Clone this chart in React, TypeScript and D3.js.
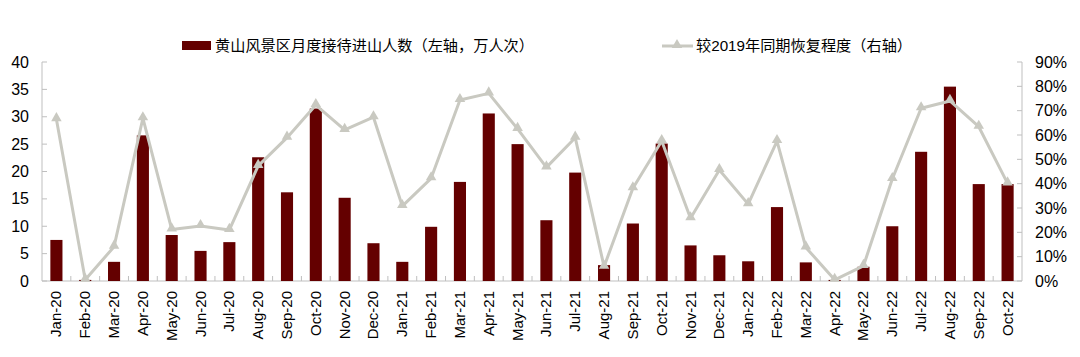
import React from "react";
import * as d3 from "d3";

const categories = [
  "Jan-20","Feb-20","Mar-20","Apr-20","May-20","Jun-20","Jul-20","Aug-20","Sep-20","Oct-20","Nov-20","Dec-20",
  "Jan-21","Feb-21","Mar-21","Apr-21","May-21","Jun-21","Jul-21","Aug-21","Sep-21","Oct-21","Nov-21","Dec-21",
  "Jan-22","Feb-22","Mar-22","Apr-22","May-22","Jun-22","Jul-22","Aug-22","Sep-22","Oct-22",
];
const visitors = [
  7.5, 0.2, 3.5, 26.6, 8.4, 5.5, 7.1, 22.6, 16.2, 31.5, 15.2, 6.9,
  3.5, 9.9, 18.1, 30.6, 25.0, 11.1, 19.8, 2.9, 10.5, 25.1, 6.5, 4.7,
  3.6, 13.5, 3.4, 0.2, 2.6, 10.0, 23.6, 35.5, 17.7, 17.7,
];
const recovery = [
  66.5, 0.5, 14.1, 66.9, 21.2, 22.6, 21.0, 47.3, 58.9, 72.3, 62.1, 67.3,
  30.8, 42.2, 74.4, 77.1, 62.5, 46.7, 58.9, 5.9, 38.1, 57.5, 25.8, 45.6,
  31.6, 57.5, 13.8, 0.5, 6.2, 41.9, 71.0, 74.0, 63.4, 40.1,
];
const leftTicks = [0, 5, 10, 15, 20, 25, 30, 35, 40];
const rightTicks = [0, 10, 20, 30, 40, 50, 60, 70, 80, 90];
const barLabel = "黄山风景区月度接待进山人数（左轴，万人次）";
const lineLabel = "较2019年同期恢复程度（右轴）";

const W = 1080, H = 357;
const M = { left: 42, right: 1022, top: 62, bottom: 281 };
const FONT = "Arial, 'Liberation Sans', 'Noto Sans CJK SC', sans-serif";
const BAR = "#640000";
const LINE = "#c9c9c1";
const AXIS = "#bfbfbf";

export default function App() {
  const x = d3.scaleBand<string>().domain(categories).range([M.left, M.right]).paddingInner(0.58).paddingOuter(0.29);
  const yL = d3.scaleLinear().domain([0, 40]).range([M.bottom, M.top]);
  const yR = d3.scaleLinear().domain([0, 90]).range([M.bottom, M.top]);
  const step = (M.right - M.left) / categories.length;
  const cx = (c: string) => (x(c) as number) + x.bandwidth() / 2;
  const line = d3.line<number>().x((_, i) => cx(categories[i])).y((d) => yR(d));
  const tri = d3.symbol().type(d3.symbolTriangle).size(48)();

  return (
    <svg width={W} height={H} style={{ position: "absolute", left: 0, top: 0, background: "#fff" }} fontFamily={FONT}>
      {/* legend */}
      <rect x={182} y={41} width={29} height={9} fill={BAR} />
      <text x={215} y={51} fontSize={15.2} fill="#000">{barLabel}</text>
      <line x1={662} x2={693} y1={46} y2={46} stroke={LINE} strokeWidth={3} />
      <path d={tri as string} transform="translate(677,45)" fill={LINE} />
      <text x={696} y={51} fontSize={15.2} fill="#000">{lineLabel}</text>

      {/* axes */}
      <line x1={M.left} x2={M.left} y1={M.top} y2={M.bottom} stroke={AXIS} />
      <line x1={M.right} x2={M.right} y1={M.top} y2={M.bottom} stroke={AXIS} />
      <line x1={M.left} x2={M.right} y1={M.bottom} y2={M.bottom} stroke={AXIS} />
      {leftTicks.map((t) => (
        <g key={"l" + t}>
          <line x1={M.left} x2={M.left + 5} y1={yL(t)} y2={yL(t)} stroke={AXIS} />
          <text x={29} y={yL(t) + 5.5} fontSize={16} textAnchor="end" fill="#000">{t}</text>
        </g>
      ))}
      {rightTicks.map((t) => (
        <g key={"r" + t}>
          <line x1={M.right - 5} x2={M.right} y1={yR(t)} y2={yR(t)} stroke={AXIS} />
          <text x={1035} y={yR(t) + 5.5} fontSize={16} textAnchor="start" fill="#000">{t + "%"}</text>
        </g>
      ))}
      {categories.map((c, i) =>
        i > 0 ? (
          <line key={"xt" + c} x1={M.left + i * step} x2={M.left + i * step} y1={M.bottom} y2={M.bottom - 5} stroke={AXIS} />
        ) : null
      )}

      {/* bars */}
      {visitors.map((v, i) => (
        <rect key={"b" + i} x={x(categories[i])} y={yL(v)} width={x.bandwidth()} height={yL(0) - yL(v)} fill={BAR} />
      ))}

      {/* line */}
      <path d={line(recovery) as string} fill="none" stroke={LINE} strokeWidth={3} strokeLinejoin="round" />
      {recovery.map((v, i) => (
        <path key={"m" + i} d={tri as string} transform={`translate(${cx(categories[i])},${yR(v) - 1})`} fill={LINE} />
      ))}

      {/* x labels */}
      {categories.map((c) => (
        <text key={"xl" + c} transform={`translate(${cx(c) + 5},${M.bottom + 10}) rotate(-90)`} fontSize={15} textAnchor="end" fill="#000">{c}</text>
      ))}
    </svg>
  );
}
